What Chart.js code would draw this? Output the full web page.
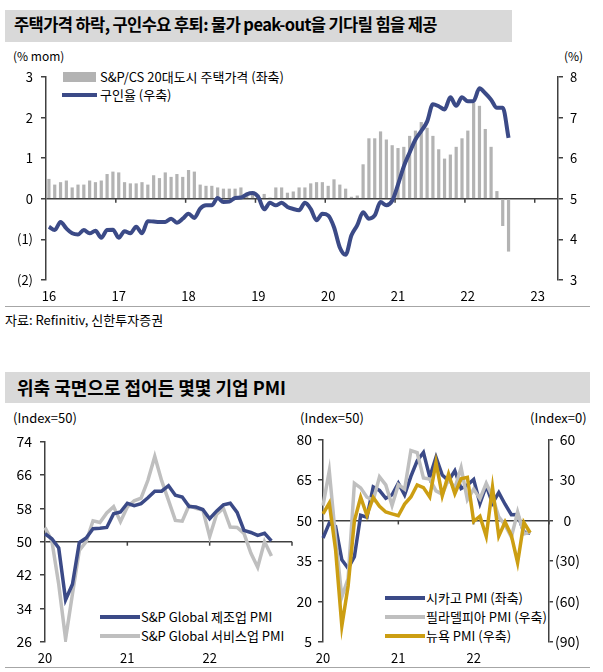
<!DOCTYPE html>
<html>
<head>
<meta charset="utf-8">
<script src="https://cdn.jsdelivr.net/npm/chart.js@4.4.0/dist/chart.umd.min.js"></script>
<style>
  body { margin: 0; width: 603px; height: 672px; position: relative; background: #fff; overflow: hidden;
         font-family: "Noto Sans CJK KR", "Noto Sans", sans-serif; color: #000; }
  .abs { position: absolute; white-space: nowrap; line-height: 1; }
  .titlebar { position: absolute; background: #d9d9d9; }
  .title { font-weight: bold; }
  .rule { position: absolute; height: 1px; background: #a6a6a6; }
  .sw { position: absolute; }
  .lg { font-size: 13px; }
  canvas { position: absolute; }
</style>
</head>
<body>
<div class="titlebar" style="left:5px;top:10px;width:507px;height:32px;"></div>
<div class="abs title" style="left:14px;top:16px;font-size:16.5px;letter-spacing:-0.6px;">주택가격 하락, 구인수요 후퇴: 물가 peak-out을 기다릴 힘을 제공</div>
<div class="abs" style="left:13px;top:50px;font-size:12px;">(% mom)</div>
<div class="abs" style="left:564px;top:50px;font-size:12px;">(%)</div>

<div class="sw" style="left:63px;top:72px;width:33px;height:10px;background:#b3b3b3;"></div>
<div class="abs lg" style="left:100px;top:70px;">S&amp;P/CS 20대도시 주택가격 (좌축)</div>
<div class="sw" style="left:62px;top:93px;width:35px;height:4px;background:#3b4a87;"></div>
<div class="abs lg" style="left:100px;top:88px;">구인율 (우축)</div>

<div class="rule" style="left:5px;top:306px;width:585px;"></div>
<div class="abs" style="left:5px;top:313px;font-size:13px;">자료: Refinitiv, 신한투자증권</div>

<div class="titlebar" style="left:5px;top:372px;width:585px;height:31px;"></div>
<div class="abs title" style="left:17px;top:378px;font-size:18px;">위축 국면으로 접어든 몇몇 기업 PMI</div>
<div class="abs" style="left:13px;top:411px;font-size:13px;">(Index=50)</div>
<div class="abs" style="left:300px;top:411px;font-size:13px;">(Index=50)</div>
<div class="abs" style="left:530px;top:411px;font-size:13px;">(Index=0)</div>

<div class="sw" style="left:100px;top:615px;width:40px;height:4px;background:#3b4a87;"></div>
<div class="abs lg" style="left:141px;top:610px;">S&amp;P Global 제조업 PMI</div>
<div class="sw" style="left:100px;top:634px;width:40px;height:4px;background:#bfbfbf;"></div>
<div class="abs lg" style="left:141px;top:629px;">S&amp;P Global 서비스업 PMI</div>

<div class="sw" style="left:385px;top:596px;width:40px;height:4px;background:#3b4a87;"></div>
<div class="abs lg" style="left:426px;top:591px;">시카고 PMI (좌축)</div>
<div class="sw" style="left:385px;top:615px;width:40px;height:4px;background:#bfbfbf;"></div>
<div class="abs lg" style="left:426px;top:610px;">필라델피아 PMI (우축)</div>
<div class="sw" style="left:385px;top:634px;width:40px;height:4px;background:#cc9e12;"></div>
<div class="abs lg" style="left:426px;top:629px;">뉴욕 PMI (우축)</div>

<div class="rule" style="left:5px;top:667px;width:585px;"></div>

<canvas id="housing" width="603" height="244" style="left:0;top:60px;"></canvas>
<canvas id="spPmi" width="300" height="240" style="left:0;top:425px;"></canvas>
<canvas id="fedPmi" width="313" height="240" style="left:290px;top:425px;"></canvas>

<script>
// monthly categories
function months(fromYear, count) {
  var out = [];
  for (var i = 0; i < count; i++) {
    var y = fromYear + Math.floor(i / 12), m = i % 12 + 1;
    out.push(y + '-' + (m < 10 ? '0' : '') + m);
  }
  return out;
}
var topMonths = months(2016, 88);     // 2016-01 .. 2023-04
var pmiMonths = months(2020, 37);     // 2020-01 .. 2023-01

// S&P/CS 20-city house price, % mom (left)
var caseShiller = [0.49, 0.35, 0.41, 0.45, 0.28, 0.35, 0.35, 0.45, 0.41, 0.45, 0.61, 0.67,
  0.65, 0.41, 0.38, 0.38, 0.41, 0.35, 0.58, 0.51, 0.65, 0.54, 0.61, 0.54,
  0.71, 0.67, 0.35, 0.32, 0.32, 0.28, 0.25, 0.25, 0.25, 0.28, 0.15, 0.12,
  0.10, 0.12, 0.03, 0.28, 0.28, 0.15, 0.18, 0.28, 0.28, 0.38, 0.41, 0.41,
  0.32, 0.48, 0.35, 0.25, 0.05, 0.08, 0.85, 1.49, 1.49, 1.66, 1.46, 1.32,
  1.25, 1.28, 1.55, 1.68, 1.89, 1.75, 1.55, 1.22, 0.99, 1.09, 1.28, 1.49,
  1.68, 2.36, 2.29, 1.72, 1.28, 0.19, -0.67, -1.30];

// job openings rate, % (right)
var jobOpeningRate = [4.31, 4.23, 4.43, 4.27, 4.15, 4.12, 4.23, 4.15, 4.21, 4.04, 4.23, 4.24,
  4.04, 4.20, 4.15, 4.31, 4.15, 4.45, 4.44, 4.43, 4.43, 4.51, 4.41, 4.51,
  4.63, 4.53, 4.76, 4.84, 4.84, 5.02, 4.92, 4.93, 5.02, 5.03, 5.11, 5.14,
  5.04, 4.74, 4.90, 4.84, 4.90, 4.80, 4.75, 4.72, 4.90, 4.75, 4.47, 4.63,
  4.59, 4.30, 3.80, 3.62, 4.10, 4.35, 4.67, 4.51, 4.59, 4.92, 4.84, 4.95,
  5.35, 5.80, 6.14, 6.46, 6.67, 6.90, 7.33, 7.28, 7.20, 7.50, 7.29, 7.50,
  7.40, 7.41, 7.72, 7.60, 7.44, 7.24, 7.24, 6.50];

// S&P Global PMI (2020-01 ..)
var mfgPmi = [51.9, 50.7, 48.5, 36.1, 39.8, 49.8, 50.9, 53.1, 53.2, 53.4, 56.7, 57.1,
  59.2, 58.6, 59.1, 60.5, 62.1, 62.1, 63.4, 61.1, 60.7, 58.4, 58.3, 57.7,
  55.5, 57.3, 58.8, 59.2, 57.0, 52.7, 52.2, 51.5, 52.0, 50.2];
var svcPmi = [53.4, 50.2, 39.8, 26.7, 37.5, 47.9, 50.0, 55.0, 54.6, 56.9, 58.4, 54.8,
  58.3, 59.8, 60.4, 64.7, 70.4, 64.6, 59.9, 55.1, 54.9, 58.7, 58.0, 57.6,
  51.2, 56.5, 58.0, 53.5, 53.4, 52.0, 47.3, 43.9, 50.0, 46.6];

// regional Fed surveys (2020-01 ..)
var chicagoPmi = [43.5, 49.0, 47.8, 35.4, 32.3, 36.6, 51.9, 51.2, 62.4, 61.1, 58.2, 59.5,
  63.8, 59.5, 66.3, 72.1, 75.2, 66.1, 73.4, 66.8, 64.7, 68.4, 61.8, 63.1,
  65.2, 56.3, 62.9, 56.4, 60.3, 56.0, 52.1, 52.2, 45.7, 45.2];
var phillyPmi = [11.0, 36.7, -12.7, -56.6, -43.1, 27.5, 24.1, 17.2, 15.0, 32.3, 26.3, 11.1,
  26.5, 23.1, 51.8, 50.2, 31.5, 30.7, 21.9, 19.4, 30.7, 23.8, 39.0, 15.4,
  23.2, 16.0, 27.4, 17.6, 2.6, -3.3, -12.3, 6.2, -9.9, -8.7];
var nyPmi = [4.8, 12.9, -21.5, -78.2, -48.5, -0.2, 17.2, 3.7, 17.0, 10.5, 6.3, 4.9,
  3.5, 12.1, 17.4, 26.3, 24.3, 17.4, 43.0, 18.3, 34.3, 19.8, 30.9, 31.9,
  -0.7, 3.1, -11.8, 24.6, -11.6, -1.2, -11.1, -31.3, -1.5, -9.1];

var BLUE = '#3b4a87', GREY_BAR = '#b3b3b3', GREY_LINE = '#bfbfbf', GOLD = '#cc9e12', AXIS = '#404040';

Chart.defaults.font.family = '"Noto Sans CJK KR", "Noto Sans", sans-serif';
Chart.defaults.color = '#000';
Chart.defaults.animation = false;

function paren(v) { return v < 0 ? '(' + (-v) + ')' : String(v); }
function yearLabel(v, i, ticks) {
  if (this.options.hideLast && i === ticks.length - 1) return '';
  var l = this.getLabelForValue(v);
  return l.slice(5) === '01' ? l.slice(2, 4) : '';
}

// short year ticks on the base line
var yearTicks = {
  id: 'yearTicks',
  beforeDatasetsDraw: function (chart, args, opts) {
    var xs = chart.scales.x, ys = chart.scales[opts.yAxis];
    var y0 = ys.getPixelForValue(opts.base);
    var half = opts.edge ? (xs.getPixelForValue(1) - xs.getPixelForValue(0)) / 2 : 0;
    var ctx = chart.ctx;
    ctx.save();
    ctx.strokeStyle = AXIS;
    ctx.lineWidth = 1.5;
    opts.at.forEach(function (i) {
      var px = xs.getPixelForValue(i) - half;
      ctx.beginPath(); ctx.moveTo(px, y0); ctx.lineTo(px, y0 + 4); ctx.stroke();
    });
    ctx.restore();
  }
};

function xAxis(h, pad, hideLast) {
  return {
    offset: false,
    hideLast: hideLast,
    grid: { display: false, drawTicks: false },
    border: { display: false },
    ticks: { autoSkip: false, maxRotation: 0, padding: pad, font: { size: 13 }, callback: yearLabel },
    afterFit: function (s) { s.height = h; }
  };
}

// ---- chart 1: house prices vs job openings
var x1 = xAxis(24, 8, false);
x1.offset = true;
new Chart(document.getElementById('housing'), {
  type: 'bar',
  data: {
    labels: topMonths,
    datasets: [{
      type: 'line',
      label: '구인율 (우축)',
      data: jobOpeningRate,
      yAxisID: 'y2',
      borderColor: BLUE,
      borderWidth: 4,
      pointRadius: 0,
      cubicInterpolationMode: 'monotone',
      order: 0
    }, {
      label: 'S&P/CS 20대도시 주택가격 (좌축)',
      data: caseShiller,
      yAxisID: 'y',
      backgroundColor: GREY_BAR,
      barPercentage: 0.55,
      categoryPercentage: 1,
      order: 1
    }]
  },
  options: {
    responsive: false,
    layout: { padding: { top: 17 } },
    plugins: {
      legend: { display: false },
      tooltip: { enabled: false },
      yearTicks: { yAxis: 'y', base: 0, edge: true, at: [12, 24, 36, 48, 60, 72, 84] }
    },
    scales: {
      x: x1,
      y: {
        position: 'left', min: -2, max: 3,
        ticks: { stepSize: 1, padding: 8, font: { size: 13 }, callback: paren },
        grid: { color: function (c) { return c.tick && c.tick.value === 0 ? AXIS : 'transparent'; },
                lineWidth: 1.5, tickColor: AXIS, tickLength: 5 },
        border: { color: AXIS, width: 1.5 },
        afterFit: function (s) { s.width = 46; }
      },
      y2: {
        position: 'right', min: 3, max: 8,
        ticks: { stepSize: 1, padding: 7, font: { size: 13 } },
        grid: { drawOnChartArea: false, tickColor: AXIS, tickLength: 5, lineWidth: 1.5 },
        border: { color: AXIS, width: 1.5 },
        afterFit: function (s) { s.width = 45; }
      }
    }
  },
  plugins: [yearTicks]
});

// ---- chart 2: S&P Global PMI
new Chart(document.getElementById('spPmi'), {
  type: 'line',
  data: {
    labels: pmiMonths,
    datasets: [{
      label: 'S&P Global 제조업 PMI', data: mfgPmi,
      borderColor: BLUE, borderWidth: 3.5, pointRadius: 0, tension: 0
    }, {
      label: 'S&P Global 서비스업 PMI', data: svcPmi,
      borderColor: GREY_LINE, borderWidth: 3.5, pointRadius: 0, tension: 0
    }]
  },
  options: {
    responsive: false,
    layout: { padding: { top: 11, right: 8 } },
    plugins: {
      legend: { display: false },
      tooltip: { enabled: false },
      yearTicks: { yAxis: 'y', base: 50, at: [12, 24, 36] }
    },
    scales: {
      x: xAxis(23, 8, true),
      y: {
        min: 26, max: 74,
        ticks: { stepSize: 8, padding: 8, font: { size: 14 } },
        grid: { color: function (c) { return c.tick && c.tick.value === 50 ? AXIS : 'transparent'; },
                lineWidth: 1.5, tickColor: AXIS, tickLength: 5 },
        border: { color: AXIS, width: 1.5 },
        afterFit: function (s) { s.width = 45; }
      }
    }
  },
  plugins: [yearTicks]
});

// ---- chart 3: Chicago / Philadelphia / New York
new Chart(document.getElementById('fedPmi'), {
  type: 'line',
  data: {
    labels: pmiMonths,
    datasets: [{
      label: '시카고 PMI (좌축)', data: chicagoPmi, yAxisID: 'y',
      borderColor: BLUE, borderWidth: 3.5, pointRadius: 0, tension: 0, order: 2
    }, {
      label: '필라델피아 PMI (우축)', data: phillyPmi, yAxisID: 'y2',
      borderColor: GREY_LINE, borderWidth: 3.5, pointRadius: 0, tension: 0, order: 1
    }, {
      label: '뉴욕 PMI (우축)', data: nyPmi, yAxisID: 'y2',
      borderColor: GOLD, borderWidth: 3.5, pointRadius: 0, tension: 0, order: 0
    }]
  },
  options: {
    responsive: false,
    layout: { padding: { top: 13 } },
    plugins: {
      legend: { display: false },
      tooltip: { enabled: false },
      yearTicks: { yAxis: 'y', base: 50, at: [12, 24, 36] }
    },
    scales: {
      x: xAxis(23, 8, true),
      y: {
        position: 'left', min: 5, max: 80,
        ticks: { stepSize: 15, padding: 6, font: { size: 14 } },
        grid: { color: function (c) { return c.tick && c.tick.value === 50 ? AXIS : 'transparent'; },
                lineWidth: 1.5, tickColor: AXIS, tickLength: 5 },
        border: { color: AXIS, width: 1.5 },
        afterFit: function (s) { s.width = 33; }
      },
      y2: {
        position: 'right', min: -90, max: 60,
        ticks: { stepSize: 30, padding: 2, crossAlign: 'center', font: { size: 14 }, callback: paren },
        grid: { drawOnChartArea: false, tickColor: AXIS, tickLength: 4, lineWidth: 1.5 },
        border: { color: AXIS, width: 1.5 },
        afterFit: function (s) { s.width = 54; }
      }
    }
  },
  plugins: [yearTicks]
});
</script>
</body>
</html>
